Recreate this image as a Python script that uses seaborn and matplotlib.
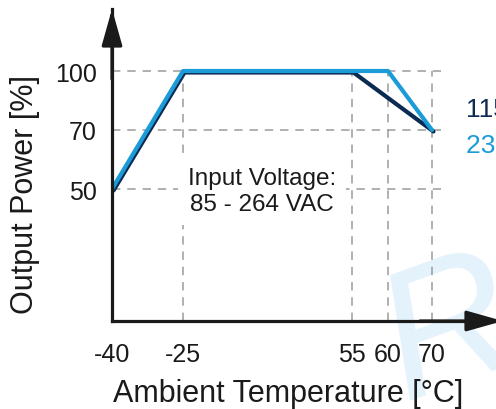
import numpy as np
import pandas as pd
import matplotlib
matplotlib.use("Agg")
import matplotlib.pyplot as plt
import matplotlib.transforms as mtransforms
import seaborn as sns

# data
temps = [-40, -25, 55, 70]
power_115 = [50, 100, 100, 70]
temps_230 = [-40, -25, 60, 70]
power_230 = [50, 100, 100, 70]
x_ticks = [-40, -25, 55, 60, 70]
y_ticks = [50, 70, 100]
series_names = ["115 VAC", "230 VAC"]

NAVY = "#0b2b52"
BLUE = "#1b9bd8"
GRID = "#9b9b9b"
W, H = 496, 410

sns.set_style("white")
plt.rcParams["font.family"] = ["Liberation Sans", "DejaVu Sans"]

# schematic (non-linear) axes, as in the datasheet drawing
X_ANCH = [-40, -25, 55, 60, 70, 100]
X_PX = [112, 183, 352, 388, 432, 564]
Y_ANCH = [0, 50, 70, 100, 160]
Y_PX = [0, 132, 191, 250, 368]


def fx(v):
    return np.interp(v, X_ANCH, X_PX)


def fx_inv(p):
    return np.interp(p, X_PX, X_ANCH)


def fy(v):
    return np.interp(v, Y_ANCH, Y_PX)


def fy_inv(p):
    return np.interp(p, Y_PX, Y_ANCH)


fig = plt.figure(figsize=(W / 100, H / 100), dpi=100)
fig.patch.set_facecolor("white")

# faint watermark in the corner
fig.text(450 / W, 1 - 335 / H, "R", fontsize=130, color="#e4f2fb",
         rotation=20, style="italic", ha="center", va="center", zorder=-1)

ax = fig.add_axes([112 / W, 88 / H, (W - 112) / W, (322 - 10) / H])
ax.patch.set_visible(False)
ax.set_zorder(2)
ax.set_xscale("function", functions=(fx, fx_inv))
ax.set_yscale("function", functions=(fy, fy_inv))
ax.set_xlim(-40, fx_inv(W))
ax.set_ylim(0, fy_inv(312))

dash = (0, (5.5, 4.5))
ax.hlines(y_ticks, -40, 72, colors=GRID, lw=1.1, linestyles=dash, zorder=1)
ax.vlines(x_ticks[1:], 0, 100, colors=GRID, lw=1.1, linestyles=dash, zorder=1)

df115 = pd.DataFrame({"t": temps, "p": power_115})
df230 = pd.DataFrame({"t": temps_230, "p": power_230})
shift = mtransforms.offset_copy(ax.transData, fig=fig, x=1.5, y=-1.5, units="dots")
sns.lineplot(data=df115, x="t", y="p", color=NAVY, lw=3, ax=ax, zorder=3,
             sort=False, transform=shift)
sns.lineplot(data=df230, x="t", y="p", color=BLUE, lw=3, ax=ax, zorder=4,
             sort=False)

for s in ["top", "right"]:
    ax.spines[s].set_visible(False)
for s in ["left", "bottom"]:
    ax.spines[s].set_linewidth(2.3)
    ax.spines[s].set_color("#1a1a1a")
    ax.spines[s].set_zorder(5)

ax.set_xticks(x_ticks)
ax.set_xticklabels([str(v) for v in x_ticks])
ax.set_yticks(y_ticks)
ax.set_yticklabels([str(v) for v in y_ticks])
ax.tick_params(axis="both", length=0, labelsize=18, colors="#1a1a1a")
ax.tick_params(axis="x", pad=15)
ax.tick_params(axis="y", pad=11)
ax.set_xlabel("")
ax.set_ylabel("")
ax.grid(False)

# arrow heads on the axes
arrow = dict(arrowstyle="-|>,head_length=1.6,head_width=0.45", color="#1a1a1a",
             lw=2.3, mutation_scale=14, shrinkA=0, shrinkB=0)
ax.annotate("", xy=(112, H - 10), xytext=(112, H - 80),
            xycoords="figure pixels", textcoords="figure pixels",
            arrowprops=arrow, annotation_clip=False, zorder=6)
ax.annotate("", xy=(503, 88), xytext=(420, 88),
            xycoords="figure pixels", textcoords="figure pixels",
            arrowprops=arrow, annotation_clip=False, zorder=6)

fig.text(288 / W, 8 / H, "Ambient Temperature [°C]", fontsize=22,
         color="#1a1a1a", ha="center", va="baseline")
fig.text(25 / W, 1 - 195 / H, "Output Power [%]", fontsize=22,
         color="#1a1a1a", ha="center", va="center", rotation=90)

fig.text(262 / W, 1 - 192 / H, "Input Voltage:\n85 - 264 VAC", fontsize=17.5,
         color="#1a1a1a", ha="center", va="center", linespacing=1.25,
         bbox=dict(facecolor="white", edgecolor="none", pad=7), zorder=6)

fig.text(466 / W, 1 - 110 / H, series_names[0], fontsize=19, color=NAVY,
         ha="left", va="center")
fig.text(466 / W, 1 - 146 / H, series_names[1], fontsize=19, color=BLUE,
         ha="left", va="center")

fig.savefig("out.png", dpi=100)
